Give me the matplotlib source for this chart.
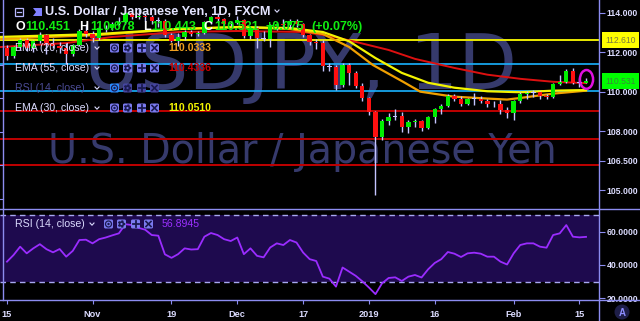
import matplotlib
matplotlib.use('Agg')
import numpy as np
import matplotlib.pyplot as plt
import matplotlib.transforms as mtrans
from matplotlib.patches import Ellipse, FancyBboxPatch, Circle, Polygon

# ---- data ----
tick_pos = [0, 13, 25, 35, 45, 55, 65, 77, 87]
tick_labels = ['15', 'Nov', '19', 'Dec', '17', '2019', '16', 'Feb', '15']

opens = [112.20, 111.78, 112.25, 112.60, 112.20, 112.55, 112.85, 112.45, 112.30, 112.20,
         111.90, 112.35, 113.05, 112.90, 112.70, 113.20, 113.20, 113.45, 113.55, 114.00,
         113.80, 113.85, 113.80, 113.60, 113.60, 112.85, 112.55, 112.75, 113.00, 112.90,
         112.95, 113.55, 113.80, 113.70, 113.45, 113.50, 113.65, 112.80, 113.20, 112.70,
         112.65, 113.30, 113.40, 113.35, 113.60, 113.40, 112.85, 112.50, 112.45, 111.30,
         111.25, 110.35, 111.35, 110.95, 110.30, 109.70, 108.95, 107.70, 108.50, 108.72,
         108.75, 108.20, 108.45, 108.50, 108.15, 108.70, 109.10, 109.25, 109.80, 109.65,
         109.40, 109.62, 109.65, 109.55, 109.35, 109.40, 109.05, 108.90, 109.55, 109.90,
         109.95, 109.98, 109.80, 109.75, 110.40, 110.50, 111.05, 110.45, 110.451]
highs = [112.35, 112.30, 112.70, 112.70, 112.60, 113.00, 112.90, 112.70, 112.50, 112.45,
         112.40, 113.15, 113.40, 113.05, 113.30, 113.35, 113.55, 113.80, 114.10, 114.05,
         114.20, 114.00, 113.90, 113.80, 113.70, 112.95, 112.95, 113.10, 113.10, 113.05,
         113.60, 113.85, 114.00, 113.75, 113.60, 113.85, 113.70, 113.25, 113.30, 113.05,
         113.40, 113.55, 113.70, 113.70, 113.70, 113.50, 112.90, 112.65, 112.60, 111.45,
         111.35, 111.45, 111.45, 111.05, 110.45, 109.75, 109.00, 108.60, 108.90, 109.10,
         108.95, 108.55, 108.60, 108.55, 108.75, 109.15, 109.35, 109.90, 109.90, 109.80,
         109.70, 109.95, 109.80, 109.65, 109.55, 109.60, 109.20, 109.60, 110.00, 110.05,
         110.10, 110.05, 109.90, 110.45, 110.85, 111.15, 111.20, 110.70, 110.678]
lows = [111.62, 111.70, 112.10, 112.05, 112.00, 112.45, 111.90, 112.20, 111.95, 111.40,
        111.80, 112.30, 112.75, 112.50, 112.60, 113.00, 113.10, 113.30, 113.45, 113.70,
        113.70, 113.60, 113.45, 113.25, 112.75, 112.50, 112.30, 112.60, 112.80, 112.80,
        112.90, 113.40, 113.55, 113.35, 113.30, 113.40, 112.70, 112.65, 112.20, 112.55,
        112.25, 113.10, 113.20, 113.20, 113.25, 112.75, 112.35, 112.15, 111.05, 111.05,
        110.10, 110.25, 110.35, 110.20, 109.55, 108.80, 104.75, 107.55, 108.30, 108.55,
        107.95, 107.90, 108.20, 108.00, 108.10, 108.40, 108.85, 109.20, 109.55, 109.25,
        109.30, 109.30, 109.45, 109.20, 109.20, 108.85, 108.65, 108.55, 109.45, 109.65,
        109.75, 109.65, 109.65, 109.70, 110.35, 110.45, 110.40, 110.25, 110.443]
closes = [111.78, 112.25, 112.60, 112.20, 112.55, 112.85, 112.45, 112.30, 112.20, 111.90,
          112.35, 113.05, 112.90, 112.70, 113.20, 113.20, 113.45, 113.55, 114.00, 113.80,
          113.85, 113.80, 113.60, 113.60, 112.85, 112.55, 112.75, 113.00, 112.90, 112.95,
          113.55, 113.80, 113.70, 113.45, 113.50, 113.65, 112.80, 113.20, 112.70, 112.66,
          113.30, 113.40, 113.35, 113.60, 113.40, 112.85, 112.50, 112.45, 111.30, 111.26,
          110.35, 111.35, 110.95, 110.30, 109.70, 108.95, 107.70, 108.50, 108.72, 108.75,
          108.20, 108.45, 108.50, 108.15, 108.70, 109.10, 109.25, 109.80, 109.65, 109.40,
          109.62, 109.65, 109.55, 109.35, 109.40, 109.05, 108.90, 109.55, 109.90, 109.95,
          109.98, 109.80, 109.75, 110.40, 110.50, 111.05, 110.45, 110.456, 110.531]

rsi = [42.0, 46.0, 51.0, 47.0, 50.0, 52.5, 49.5, 47.6, 49.6, 45.0,
       48.5, 55.0, 55.2, 53.0, 55.5, 56.5, 57.8, 59.0, 64.5, 64.0,
       62.3, 61.2, 58.0, 57.6, 46.4, 44.3, 46.5, 50.0, 49.3, 49.5,
       57.0, 59.2, 58.0, 55.5, 54.4, 56.5, 46.5, 50.0, 45.5, 44.6,
       50.5, 53.0, 52.0, 55.0, 53.5, 47.5, 43.5, 42.4, 33.0, 31.8,
       27.0, 38.5, 36.0, 33.5, 30.2, 26.5, 22.5, 29.0, 32.2, 32.6,
       30.4, 33.0, 34.0, 32.5, 37.4, 41.2, 43.5, 47.8, 46.8, 44.8,
       47.0, 47.4, 46.8, 45.0, 45.0, 42.0, 40.3, 47.0, 52.0, 53.0,
       53.0, 51.0, 50.4, 58.0, 59.0, 64.0, 57.0, 56.6, 56.9]

ema55_x = [-1, 9, 16, 26, 35, 45, 49, 53, 58, 62, 68, 73, 78, 83, 88]
ema55 = [112.26, 112.46, 112.77, 113.02, 113.07, 113.02, 112.82, 112.52, 112.11, 111.66,
         111.20, 110.86, 110.65, 110.50, 110.43]
ema30_x = [-1, 14, 26, 35, 43, 48, 52, 56, 60, 64, 68, 73, 78, 83, 88]
ema30 = [112.77, 112.92, 113.17, 113.27, 113.22, 113.02, 112.55, 111.70, 110.95, 110.45,
         110.20, 110.02, 109.97, 110.05, 110.08]
ema20_x = [-1, 14, 26, 35, 43, 48, 52, 55.6, 60.2, 62.8, 67.8, 73, 76, 78, 83, 88]
ema20 = [112.67, 112.87, 113.17, 113.27, 113.17, 112.92, 112.26, 111.35, 110.50, 110.00,
         109.75, 109.65, 109.60, 109.68, 109.90, 110.05]

level_yellow = 112.61
levels_blue = [111.39, 110.05]
levels_red = [109.00, 107.59, 106.31]
price_ticks = [114.0, 112.0, 110.0, 108.0, 106.5, 105.0]
rsi_ticks = [20, 40, 60]
last_price = 110.531

# ---- colours ----
LAV = '#8c8cf0'
TXT = '#dcdcff'
WM = '#363a6c'
WICK = '#c4c4ff'
UP, DN = '#00ee00', '#ff1010'
W, H = 640, 321

fig = plt.figure(figsize=(6.4, 3.21), dpi=100, facecolor='black')


def frac(x0, y0, x1, y1):
    return [x0 / W, 1 - y1 / H, (x1 - x0) / W, (y1 - y0) / H]


# watermark layer
bg = fig.add_axes(frac(0, 0, W, H), zorder=0)
bg.set_xlim(0, W); bg.set_ylim(H, 0); bg.axis('off')
bg.set_facecolor('black')
bg.text(300, 89, 'USDJPY, 1D', fontsize=55, color=WM, ha='center', va='baseline')
bg.text(302, 163, 'U.S. Dollar / Japanese Yen', fontsize=28.5, color=WM,
        ha='center', va='baseline')

# main price pane
ax = fig.add_axes(frac(0, 0, 599, 208), zorder=1)
ax.patch.set_alpha(0)
ax.set_xlim(-1.06, 89.97)
ax.set_ylim(104.11, 114.64)
for s in ax.spines.values():
    s.set_visible(False)

ax.axhline(level_yellow, color='#eaea00', lw=1.4, zorder=2)
for lv in levels_blue:
    ax.axhline(lv, color='#19b2ff', lw=1.2, zorder=2)
for lv in levels_red:
    ax.axhline(lv, color='#c00000', lw=1.4, zorder=2)

ax.plot(ema55_x, ema55, color='#dd1010', lw=1.4, zorder=2.5)
ax.plot(ema20_x, ema20, color='#f0a000', lw=1.6, zorder=2.6)
ax.plot(ema30_x, ema30, color='#f4f400', lw=1.6, zorder=2.7)

xs = np.arange(len(closes))
o = np.array(opens); c = np.array(closes)
body_col = []
for oo, cc in zip(o, c):
    if abs(cc - oo) < 0.045:
        body_col.append(WICK)
    elif cc > oo:
        body_col.append(UP)
    else:
        body_col.append(DN)
ax.vlines(xs, lows, highs, color=WICK, lw=1.0, zorder=3)
ax.bar(xs, np.maximum(np.abs(c - o), 0.04), 0.66, bottom=np.minimum(o, c),
       color=body_col, linewidth=0, zorder=4)

ax.add_patch(Ellipse((88.07, 110.62), 2.0, 0.95, fill=False, ec='#e010e0', lw=1.8, zorder=5))

ax.yaxis.tick_right()
ax.set_yticks(price_ticks)
ax.set_yticklabels([f'{t:.3f}' for t in price_ticks])
ax.set_xticks([])
ax.tick_params(axis='y', colors=LAV, labelcolor=TXT, length=4, width=0.8, pad=1.5,
               labelsize=6.2)
for lab in ax.get_yticklabels():
    lab.set_fontfamily('Liberation Sans'); lab.set_fontweight('bold')

blend = mtrans.blended_transform_factory(ax.transAxes, ax.transData)
ax.text(1.01, level_yellow, '112.610', transform=blend, fontsize=6.2, color='#7a7a40',
        family='Liberation Sans', va='center', ha='left', zorder=6, clip_on=False,
        bbox=dict(boxstyle='square,pad=0.4', fc='#ffff00', ec='none'))
ax.text(1.01, last_price, f'{last_price:.3f}', transform=blend, fontsize=6.2,
        color='#3a8a3a', family='Liberation Sans', va='center', ha='left', zorder=6,
        clip_on=False, bbox=dict(boxstyle='square,pad=0.4', fc='#00ff00', ec='none'))

# RSI pane
ar = fig.add_axes(frac(0, 210, 599, 300), zorder=1)
ar.patch.set_alpha(0)
ar.set_xlim(-1.06, 89.97)
ar.set_ylim(18.98, 73.03)
for s in ar.spines.values():
    s.set_visible(False)
ar.axhspan(30, 70, color='#1e0a4e', lw=0, zorder=1)
ar.axhline(70, color='#a8a8f0', lw=1.0, ls=(0, (4, 3)), zorder=2)
ar.axhline(30, color='#a8a8f0', lw=1.0, ls=(0, (4, 3)), zorder=2)
ar.plot(xs, rsi, color='#9a2cff', lw=1.3, zorder=3)
ar.yaxis.tick_right()
ar.set_yticks(rsi_ticks)
ar.set_yticklabels([f'{t:.4f}' for t in rsi_ticks])
ar.set_xticks(tick_pos)
ar.set_xticklabels(tick_labels)
ar.tick_params(axis='y', colors=LAV, labelcolor=TXT, length=4, width=0.8, pad=1.5,
               labelsize=6.2)
ar.tick_params(axis='x', colors=LAV, labelcolor=TXT, length=3, width=0.8, pad=4,
               labelsize=6.6)
for lab in ar.get_yticklabels() + ar.get_xticklabels():
    lab.set_fontfamily('Liberation Sans'); lab.set_fontweight('bold')

# overlay: frame lines, legend, header
ov = fig.add_axes(frac(0, 0, W, H), zorder=5)
ov.set_xlim(0, W); ov.set_ylim(H, 0); ov.axis('off')
ov.patch.set_alpha(0)
ov.plot([0, W], [209, 209], color=LAV, lw=1.0)
ov.plot([0, W], [300, 300], color=LAV, lw=1.0)
ov.plot([599, 599], [0, H], color=LAV, lw=1.0)
ov.plot([2.5, 2.5], [0, 300], color=LAV, lw=1.0)
for ty in [32, 65, 98, 132, 165, 199]:
    ov.plot([0, 2.5], [ty, ty], color=LAV, lw=0.8)

F = 'Liberation Sans'


def chevron(x, y):
    ov.plot([x - 2, x, x + 2], [y - 1, y + 1.2, y - 1], color=TXT, lw=0.8)


def icons(x0, y, steps, colors):
    for k, (sx, col) in enumerate(zip(steps, colors)):
        bx = x0 + sx
        ov.add_patch(FancyBboxPatch((bx, y - 4.5), 9, 9,
                                    boxstyle='round,pad=0,rounding_size=1.5',
                                    fc=col, ec='none'))
        cx = bx + 4.5
        ink = '#1a1a50'
        if k == 0:
            ov.add_patch(Circle((cx, y), 3.0, fc='none', ec=ink, lw=0.9))
            ov.add_patch(Circle((cx, y), 1.2, fc=ink, ec='none'))
        elif k == 1:
            ov.add_patch(Circle((cx, y), 2.8, fc=ink, ec=ink, lw=1.4, ls=(0, (1, 0.8))))
            ov.add_patch(Circle((cx, y), 1.1, fc=col, ec='none'))
        elif k == 2:
            ov.plot([cx - 3, cx + 3], [y, y], color=ink, lw=1.3)
            ov.plot([cx, cx], [y - 3, y + 3], color=ink, lw=1.3)
        else:
            ov.plot([cx - 2.5, cx + 2.5], [y - 2.5, y + 2.5], color=ink, lw=1.2)
            ov.plot([cx - 2.5, cx + 2.5], [y + 2.5, y - 2.5], color=ink, lw=1.2)


# header
ov.add_patch(FancyBboxPatch((15, 7.5), 8, 8, boxstyle='square,pad=0', fc='none',
                            ec='#b8b8ff', lw=0.9))
ov.plot([17, 21], [11.5, 11.5], color='#b8b8ff', lw=0.9)
ov.add_patch(Polygon([[33, 8], [42, 8], [42, 16], [33, 16], [36, 12]], closed=True,
                     fc='#8080ff', ec='none'))
ov.text(45, 12, 'U.S. Dollar / Japanese Yen, 1D, FXCM', fontsize=9.2, family=F,
        fontweight='bold', color='#e4e4ff', va='center', ha='left')
chevron(277, 11)
GR = '#10ee10'
for txt, xx, col in [('O', 15, '#ffffff'), ('110.451', 25, GR), ('H', 79, '#ffffff'),
                     ('110.678', 90, GR), ('L', 143, '#ffffff'), ('110.443', 151, GR),
                     ('C', 203, '#ffffff'), ('110.531', 214, GR), ('+0.075', 265, GR),
                     ('(+0.07%)', 311, GR)]:
    ov.text(xx, 27, txt, fontsize=9, family=F, fontweight='bold', color=col,
            va='center', ha='left')

rows = [(48, 'EMA (20, close)', '110.0333', '#f0a020', TXT),
        (68, 'EMA (55, close)', '110.4336', '#cc0000', TXT),
        (88, 'RSI (14, close)', None, None, '#4c4c96'),
        (108, 'EMA (30, close)', '110.0510', '#f4f400', TXT)]
for y, lab, val, vc, tc in rows:
    ov.text(15, y, lab, fontsize=7.6, family=F, color=tc, va='center', ha='left')
    chevron(97, y)
    cols = ['#7b7bf0'] * 4
    if val is None:
        cols = ['#2a8cff', '#4646a0', '#4646a0', '#4646a0']
    icons(110, y, [0, 13, 27, 40], cols)
    if val:
        ov.text(168, y, val, fontsize=7.6, family=F, fontweight='bold', color=vc,
                va='center', ha='left')

ov.text(15, 224, 'RSI (14, close)', fontsize=7.6, family=F, color=TXT, va='center', ha='left')
chevron(92, 224)
icons(104, 224, [0, 13, 27, 40], ['#7b7bf0'] * 4)
ov.text(162, 224, '56.8945', fontsize=7.6, family=F, color='#9b30ff', va='center', ha='left')

ov.add_patch(Circle((622, 312), 7.5, fc='#1e1e48', ec='none'))
ov.text(622, 312.5, 'A', fontsize=7, family=F, fontweight='bold', color='#8c8cff',
        ha='center', va='center')

fig.savefig('out.png', dpi=100, facecolor='black')
